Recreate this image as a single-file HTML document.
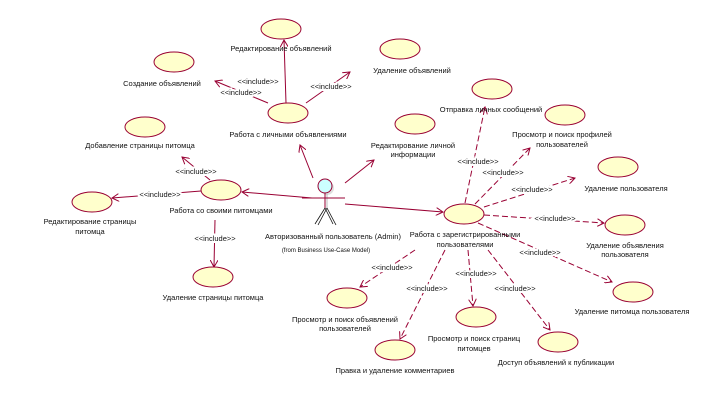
<!DOCTYPE html>
<html><head><meta charset="utf-8"><style>
html,body{margin:0;padding:0;background:#fff;}
svg{display:block;}
text{font-family:"Liberation Sans",sans-serif;font-size:7.5px;fill:#111;text-anchor:middle;}
.s{font-size:6px;}
.i{paint-order:stroke;stroke:#fff;stroke-width:4px;}
ellipse{fill:#ffffcc;stroke:#990033;stroke-width:1;}
.l{stroke:#990033;stroke-width:1;fill:none;}
.d{stroke:#990033;stroke-width:1;fill:none;stroke-dasharray:6,3;}
</style></head><body>
<svg width="726" height="406" viewBox="0 0 726 406" xmlns="http://www.w3.org/2000/svg">
<defs>
<marker id="a" markerWidth="8" markerHeight="8" refX="7" refY="4" orient="auto" markerUnits="userSpaceOnUse"><path d="M0,0 L7,4 L0,8" fill="none" stroke="#990033" stroke-width="1"/></marker>
</defs>
<line class="l" x1="313" y1="178" x2="300" y2="145" marker-end="url(#a)"/>
<line class="l" x1="345" y1="183" x2="374" y2="160" marker-end="url(#a)"/>
<line class="l" x1="312" y1="198" x2="242" y2="192" marker-end="url(#a)"/>
<line class="l" x1="345" y1="204" x2="443" y2="212" marker-end="url(#a)"/>
<line class="l" x1="286" y1="103" x2="284" y2="40" marker-end="url(#a)"/>
<text class="i" x="258" y="84">&lt;&lt;include&gt;&gt;</text>
<line class="l" x1="306" y1="103" x2="350" y2="72" marker-end="url(#a)"/>
<text class="i" x="331" y="89">&lt;&lt;include&gt;&gt;</text>
<line class="l" x1="268" y1="103" x2="215" y2="81" marker-end="url(#a)"/>
<text class="i" x="241" y="95">&lt;&lt;include&gt;&gt;</text>
<line class="l" x1="210" y1="180" x2="182" y2="157" marker-end="url(#a)"/>
<text class="i" x="196" y="174">&lt;&lt;include&gt;&gt;</text>
<line class="l" x1="201" y1="191" x2="112" y2="198" marker-end="url(#a)"/>
<text class="i" x="160" y="197">&lt;&lt;include&gt;&gt;</text>
<line class="l" x1="215" y1="220" x2="214" y2="267" marker-end="url(#a)"/>
<text class="i" x="215" y="241">&lt;&lt;include&gt;&gt;</text>
<line class="d" x1="465" y1="203" x2="485" y2="107" marker-end="url(#a)"/>
<text class="i" x="478" y="164">&lt;&lt;include&gt;&gt;</text>
<line class="d" x1="475" y1="204" x2="530" y2="148" marker-end="url(#a)"/>
<text class="i" x="503" y="175">&lt;&lt;include&gt;&gt;</text>
<line class="d" x1="484" y1="207" x2="575" y2="178" marker-end="url(#a)"/>
<text class="i" x="532" y="192">&lt;&lt;include&gt;&gt;</text>
<line class="d" x1="484" y1="215" x2="604" y2="223" marker-end="url(#a)"/>
<text class="i" x="555" y="221">&lt;&lt;include&gt;&gt;</text>
<line class="d" x1="478" y1="223" x2="612" y2="282" marker-end="url(#a)"/>
<text class="i" x="540" y="255">&lt;&lt;include&gt;&gt;</text>
<line class="d" x1="415" y1="250" x2="360" y2="287" marker-end="url(#a)"/>
<text class="i" x="392" y="270">&lt;&lt;include&gt;&gt;</text>
<line class="d" x1="445" y1="250" x2="400" y2="339" marker-end="url(#a)"/>
<text class="i" x="427" y="291">&lt;&lt;include&gt;&gt;</text>
<line class="d" x1="468" y1="250" x2="473" y2="306" marker-end="url(#a)"/>
<text class="i" x="476" y="276">&lt;&lt;include&gt;&gt;</text>
<line class="d" x1="488" y1="250" x2="550" y2="330" marker-end="url(#a)"/>
<text class="i" x="515" y="291">&lt;&lt;include&gt;&gt;</text>
<ellipse cx="281" cy="29" rx="20" ry="10"/>
<text x="281" y="51">Редактирование объявлений</text>
<ellipse cx="400" cy="49" rx="20" ry="10"/>
<text x="412" y="73">Удаление объявлений</text>
<ellipse cx="174" cy="62" rx="20" ry="10"/>
<text x="162" y="86">Создание объявлений</text>
<ellipse cx="288" cy="113" rx="20" ry="10"/>
<text x="288" y="137">Работа с личными объявлениями</text>
<ellipse cx="145" cy="127" rx="20" ry="10"/>
<text x="140" y="148">Добавление страницы питомца</text>
<ellipse cx="415" cy="124" rx="20" ry="10"/>
<text x="413" y="148">Редактирование личной</text>
<text x="413" y="157">информации</text>
<ellipse cx="221" cy="190" rx="20" ry="10"/>
<text x="221" y="213">Работа со своими питомцами</text>
<ellipse cx="92" cy="202" rx="20" ry="10"/>
<text x="90" y="224">Редактирование страницы</text>
<text x="90" y="234">питомца</text>
<ellipse cx="213" cy="277" rx="20" ry="10"/>
<text x="213" y="300">Удаление страницы питомца</text>
<ellipse cx="464" cy="214" rx="20" ry="10"/>
<text x="465" y="237">Работа с зарегистрированными</text>
<text x="465" y="247">пользователями</text>
<ellipse cx="492" cy="89" rx="20" ry="10"/>
<text x="491" y="112">Отправка личных сообщений</text>
<ellipse cx="565" cy="115" rx="20" ry="10"/>
<text x="562" y="137">Просмотр и поиск профилей</text>
<text x="562" y="147">пользователей</text>
<ellipse cx="618" cy="167" rx="20" ry="10"/>
<text x="626" y="191">Удаление пользователя</text>
<ellipse cx="625" cy="225" rx="20" ry="10"/>
<text x="625" y="248">Удаление объявления</text>
<text x="625" y="257">пользователя</text>
<ellipse cx="633" cy="292" rx="20" ry="10"/>
<text x="632" y="314">Удаление питомца пользователя</text>
<ellipse cx="347" cy="298" rx="20" ry="10"/>
<text x="345" y="322">Просмотр и поиск объявлений</text>
<text x="345" y="331">пользователей</text>
<ellipse cx="395" cy="350" rx="20" ry="10"/>
<text x="395" y="373">Правка и удаление комментариев</text>
<ellipse cx="476" cy="317" rx="20" ry="10"/>
<text x="474" y="341">Просмотр и поиск страниц</text>
<text x="474" y="351">питомцев</text>
<ellipse cx="558" cy="342" rx="20" ry="10"/>
<text x="556" y="365">Доступ объявлений к публикации</text>
<circle cx="327" cy="188" r="7" fill="#ccc" opacity="0.6"/>
<circle cx="325" cy="186" r="7" fill="#ccffff" stroke="#990033"/>
<line x1="325" y1="193" x2="325" y2="208" stroke="#990033"/>
<line x1="327" y1="193" x2="327" y2="208" stroke="#bbb"/>
<line x1="302" y1="198" x2="345" y2="198" stroke="#990033"/>
<path d="M325,208 L315,224 M327,208 L318,225 M325,208 L333,224 M327,208 L336,225" stroke="#111" stroke-width="0.8" fill="none"/>
<text x="333" y="239">Авторизованный пользователь (Admin)</text>
<text class="s" x="326" y="252">(from Business Use-Case Model)</text>
</svg>
</body></html>
